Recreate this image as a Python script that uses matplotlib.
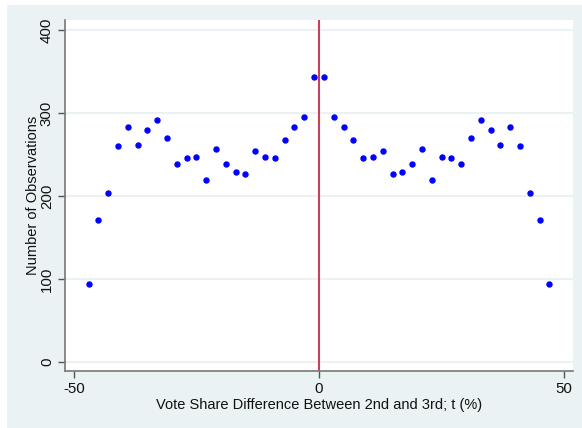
import numpy as np
import matplotlib.pyplot as plt
from matplotlib.patches import Rectangle

plt.rcParams['font.family'] = ['Liberation Sans', 'DejaVu Sans']
plt.rcParams['axes.unicode_minus'] = False

# bins of the vote share difference (%), centred on odd values
bins = [-47, -45, -43, -41, -39, -37, -35, -33, -31, -29, -27, -25,
        -23, -21, -19, -17, -15, -13, -11, -9, -7, -5, -3, -1,
        1, 3, 5, 7, 9, 11, 13, 15, 17, 19, 21, 23,
        25, 27, 29, 31, 33, 35, 37, 39, 41, 43, 45, 47]
counts = [94, 171, 204, 260, 283, 261, 280, 291, 270, 238, 246, 247,
          219, 257, 238, 229, 226, 254, 247, 246, 267, 283, 295, 343,
          343, 295, 283, 267, 246, 247, 254, 226, 229, 238, 257, 219,
          247, 246, 238, 270, 291, 280, 261, 283, 260, 204, 171, 94]
yticks = [0, 100, 200, 300, 400]
xticks = [-50, 0, 50]

bg = '#eaf2f3'
fig = plt.figure(figsize=(5.82, 4.28), dpi=100, facecolor='white')
fig.patches.append(Rectangle((7 / 582, 0), 1, 1 - 5 / 428, transform=fig.transFigure,
                             facecolor=bg, edgecolor='none', zorder=-10))
ax = fig.add_axes([65 / 582, 1 - 371 / 428, 508 / 582, 351 / 428])
ax.set_facecolor('white')

for y in yticks:
    ax.axhline(y, color=bg, lw=1.5, zorder=1)
ax.axvline(0, color='#c8405e', lw=1.5, zorder=2)
ax.plot(bins, counts, 'o', color='#0000ff', markersize=3.6, zorder=3)

ax.set_xlim(-51.8, 51.8)
ax.set_ylim(-10.8, 412)
ax.set_xticks(xticks)
ax.set_yticks(yticks)
ax.set_yticklabels([str(v) for v in yticks], rotation=90, va='center')

for s in ['top', 'right']:
    ax.spines[s].set_visible(False)
for s in ['left', 'bottom']:
    ax.spines[s].set_color('#777777')
    ax.spines[s].set_linewidth(1.2)
ax.tick_params(direction='out', length=5, width=1, color='#555555',
               labelsize=10.8, labelcolor='#111111', pad=3)

ax.set_xlabel('Vote Share Difference Between 2nd and 3rd; t (%)', fontsize=10.5,
              color='#111111', labelpad=1)
ax.set_ylabel('Number of Observations', fontsize=10.5, color='#111111', labelpad=0)

fig.savefig('out.png', dpi=100, facecolor=fig.get_facecolor())
